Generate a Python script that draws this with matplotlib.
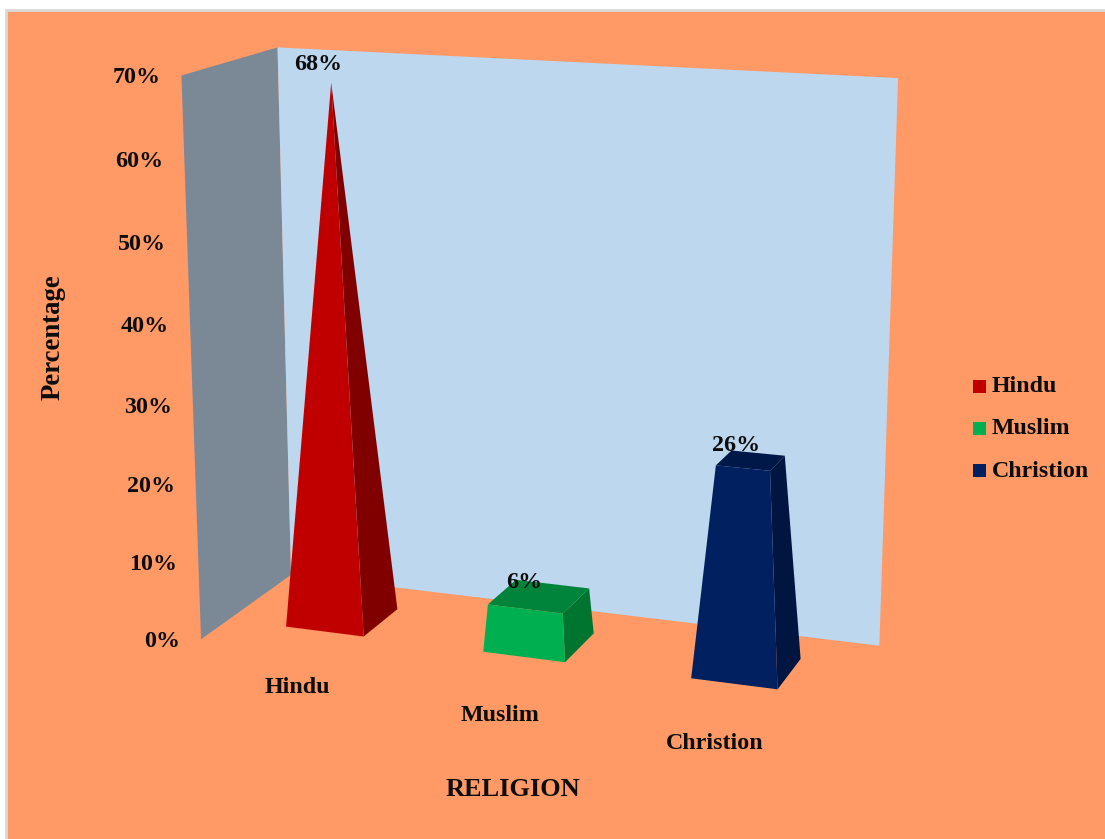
import numpy as np
import matplotlib
matplotlib.use('Agg')
import matplotlib.pyplot as plt
from matplotlib.patches import Polygon, Rectangle

plt.rcParams['font.family'] = ['Liberation Serif', 'DejaVu Serif']
plt.rcParams['font.weight'] = 'bold'

# religion shares in percent
categories = ['Hindu', 'Muslim', 'Christion']
values = [68, 6, 26]
value_ticks = [0, 10, 20, 30, 40, 50, 60, 70]
axis_max = 70

# front, side and top shades per series
front_colors = ['#C00000', '#00B050', '#002060']
side_colors = ['#800000', '#007530', '#001540']
top_colors = ['#9A0000', '#00843C', '#001848']

BG = '#FF9966'
BACK_WALL = '#BDD7EE'
SIDE_WALL = '#7B8896'
TEXT = '#0D0D0D'

# half size of a bar footprint, in category / depth units
HALF_W = 0.2
HALF_D = 0.205

# camera calibration: (category pos, depth, value) -> figure pixel
cal_world = [(0, 0, 0), (0, 0, 70), (0, 1, 0), (0, 1, 70), (3, 1, 0), (3, 1, 70), (3, 0, 0)]
cal_pixel = [(201, 639), (181, 76), (291, 575), (278, 47), (879, 646), (898, 78), (828, 721)]


def fit_camera(world, pixel):
    # direct linear transform, smallest singular vector gives the 3x4 matrix
    rows = []
    for (x, d, v), (px, py) in zip(world, pixel):
        p = [x, d, v / 70.0, 1.0]
        rows.append(p + [0, 0, 0, 0] + [-px * c for c in p])
        rows.append([0, 0, 0, 0] + p + [-py * c for c in p])
    return np.linalg.svd(np.array(rows))[2][-1].reshape(3, 4)


CAM = fit_camera(cal_world, cal_pixel)


def project(x, d, v):
    q = CAM @ np.array([x, d, v / 70.0, 1.0])
    return q[0] / q[2], q[1] / q[2]


def bar_corners(center, value, apex):
    # square pyramid cut off at value, the tallest bar comes to a point
    s = 1 - value / apex
    out = {}
    for name, sx, sd in [('fl', -1, -1), ('fr', 1, -1), ('br', 1, 1), ('bl', -1, 1)]:
        out[name] = project(center + sx * HALF_W, 0.5 + sd * HALF_D, 0)
        out[name + '_t'] = project(center + sx * HALF_W * s, 0.5 + sd * HALF_D * s, value)
    return out


fig = plt.figure(figsize=(11.05, 8.39), dpi=100)
ax = fig.add_axes([0, 0, 1, 1])
ax.set_xlim(0, 1105)
ax.set_ylim(839, 0)
ax.axis('off')

# chart area
ax.add_patch(Rectangle((6, 10), 1110, 840, facecolor=BG, edgecolor='#D9D9D9', linewidth=2, zorder=0))

# walls
ax.add_patch(Polygon([project(0, 0, 0), project(0, 0, axis_max), project(0, 1, axis_max), project(0, 1, 0)],
                     facecolor=SIDE_WALL, edgecolor='none', zorder=1))
ax.add_patch(Polygon([project(0, 1, 0), project(0, 1, axis_max), project(3, 1, axis_max), project(3, 1, 0)],
                     facecolor=BACK_WALL, edgecolor='none', zorder=1))

# bars
apex = max(values)
for i, val in enumerate(values):
    c = bar_corners(i + 0.5, val, apex)
    ax.add_patch(Polygon([c['fr'], c['br'], c['br_t'], c['fr_t']], facecolor=side_colors[i], edgecolor='none', zorder=2))
    ax.add_patch(Polygon([c['fl_t'], c['fr_t'], c['br_t'], c['bl_t']], facecolor=top_colors[i], edgecolor='none', zorder=2))
    ax.add_patch(Polygon([c['fl'], c['fr'], c['fr_t'], c['fl_t']], facecolor=front_colors[i], edgecolor='none', zorder=3))

    # value label sits above the bar top
    tx, ty = project(i + 0.5, 0.5, val)
    ax.text(tx - 15 + val * 0.03, ty - 13 - val * 0.08, f'{val}%', fontsize=17.3, color=TEXT,
            ha='center', va='center', zorder=4)

    # category label below the floor edge
    lx, ly = project(i + 0.5, 0, 0)
    ax.text(lx - 1, ly + 35 + min(i, 1) * 2, categories[i], fontsize=17.3, color=TEXT, ha='center', va='center', zorder=4)

# value axis labels follow the left wall edge
for t in value_ticks:
    px, py = project(0, 0, t)
    ax.text(px - 21, py + 2, f'{t}%', fontsize=17.3, color=TEXT, ha='right', va='center', zorder=4)

# axis titles
ax.text(53, 337, 'Percentage', fontsize=19.3, color=TEXT, rotation=90, ha='center', va='center')
ax.text(513, 789, 'RELIGION', fontsize=19, color=TEXT, ha='center', va='center')

# legend
for i, name in enumerate(categories):
    y = 386 + i * 42
    ax.add_patch(Rectangle((973, y - 6.5), 13, 13, facecolor=front_colors[i], edgecolor='none', zorder=4))
    ax.text(992, y + i * 0.7, name, fontsize=17.2, color=TEXT, ha='left', va='center', zorder=4)

fig.savefig('out.png', dpi=100, facecolor='white')
